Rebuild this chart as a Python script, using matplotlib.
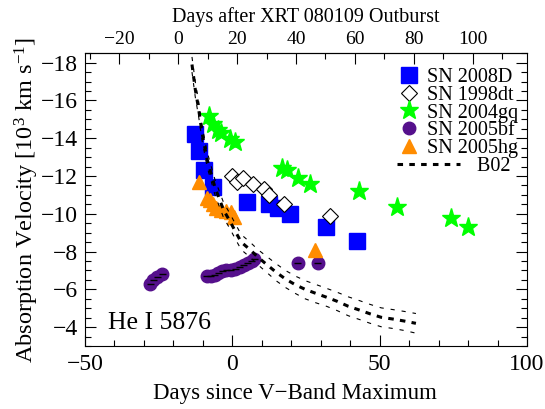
import numpy as np
import matplotlib
matplotlib.use("Agg")
import matplotlib.pyplot as plt
from matplotlib.ticker import MultipleLocator
from matplotlib.lines import Line2D
from matplotlib.legend_handler import HandlerLine2D

plt.rcParams["font.family"] = ["Liberation Serif", "DejaVu Serif"]
plt.rcParams["mathtext.fontset"] = "custom"
plt.rcParams["mathtext.rm"] = "Liberation Serif"
plt.rcParams["mathtext.it"] = "Liberation Serif:italic"
plt.rcParams["lines.scale_dashes"] = False

# days since V-band max, absorption velocity (10^3 km/s)
sn08d_t = [-12.6, -11.4, -9.6, -6.7, 5.0, 12.3, 15.5, 19.5, 31.8, 42.2]
sn08d_v = [-14.2, -13.3, -12.3, -11.4, -10.6, -10.5, -10.3, -10.0, -9.3, -8.55]

sn98dt_t = [0.0, 1.5, 3.7, 7.0, 10.9, 12.3, 17.5, 33.3]
sn98dt_v = [-12.0, -11.7, -11.9, -11.6, -11.3, -11.0, -10.5, -9.9]

sn04gq_t = [-8.0, -6.5, -5.0, -3.8, -0.8, 0.8, 17.0, 18.5, 22.2, 26.2, 43.0, 55.9, 74.2, 80.1]
sn04gq_v = [-15.2, -14.75, -14.45, -14.3, -13.95, -13.8, -12.4, -12.3, -11.9, -11.6,
            -11.2, -10.35, -9.75, -9.3]

sn05bf_t = [-27.9, -26.8, -25.5, -23.8, -8.6, -7.3, -6.0, -4.8, -3.5, -2.0, -0.5,
            1.0, 2.5, 3.8, 5.2, 6.5, 7.5, 22.2, 29.0]
sn05bf_v = [-6.28, -6.5, -6.65, -6.8, -6.68, -6.7, -6.78, -6.85, -6.95, -7.0, -7.03,
            -7.1, -7.2, -7.27, -7.38, -7.5, -7.6, -7.37, -7.39]

sn05hg_t = [-11.4, -8.6, -7.5, -6.5, -5.6, -4.0, -2.0, -0.3, 0.7, 28.1]
sn05hg_v = [-11.7, -10.85, -10.75, -10.5, -10.3, -10.2, -10.15, -10.1, -9.85, -8.1]

# B02 curve and its band
b02_t = [-13.7, -12.6, -11.4, -10.3, -8.6, -5.9, -3.0, -0.8, 0.9, 3.0, 6.0, 8.7,
         12.0, 14.9, 18.0, 21.4, 24.7, 28.1, 32.0, 35.5, 39.4, 43.2, 46.8, 50.5,
         54.4, 58.4, 62.3]
b02_v = [-17.9, -16.6, -15.5, -14.3, -12.9, -11.4, -10.2, -9.6, -9.1, -8.5, -8.1,
         -7.7, -7.27, -6.9, -6.55, -6.24, -6.0, -5.8, -5.58, -5.37, -5.1, -4.9,
         -4.7, -4.52, -4.43, -4.32, -4.2]
b02_hi = [-18.3, -17.0, -15.9, -14.7, -13.3, -11.8, -10.6, -10.0, -9.5, -8.9, -8.5,
          -8.1, -7.7, -7.35, -7.0, -6.7, -6.46, -6.27, -6.05, -5.85, -5.6, -5.4,
          -5.2, -5.02, -4.93, -4.83, -4.72]
b02_lo = [-17.5, -16.2, -15.1, -13.9, -12.5, -11.0, -9.8, -9.2, -8.7, -8.1, -7.7,
          -7.3, -6.85, -6.45, -6.1, -5.78, -5.5, -5.3, -5.1, -4.88, -4.6, -4.4,
          -4.2, -4.02, -3.93, -3.82, -3.68]

xrt_offset = 18.4

BLUE, GREEN, PURPLE, ORANGE = "#0000ff", "#00ff00", "#55108c", "#ff8c00"
thick_dash = (4, 4.5)


class LongLine(HandlerLine2D):
    # dashed B02 sample is drawn wider than the marker samples
    def create_artists(self, legend, orig_handle, xdescent, ydescent, width,
                       height, fontsize, trans):
        return super().create_artists(legend, orig_handle, xdescent, ydescent,
                                      width * 2.6, height, fontsize, trans)


fig = plt.figure(figsize=(5.45, 4.09), dpi=100)
ax = fig.add_axes([0.156, 0.154, 0.811, 0.716])

ax.plot(sn08d_t, sn08d_v, "s", color=BLUE, ms=11, zorder=3)
ax.plot(sn98dt_t, sn98dt_v, "D", mfc="white", mec="black", mew=0.8, ms=8.5, zorder=3)
ax.plot(sn04gq_t, sn04gq_v, "*", color=GREEN, ms=14, zorder=3)
ax.plot(sn05bf_t, sn05bf_v, "o", color=PURPLE, ms=9, zorder=3)
ax.errorbar(sn05bf_t, sn05bf_v, xerr=1.2, fmt="none", ecolor="black",
            elinewidth=1, capsize=0, zorder=4)
ax.plot(sn05hg_t, sn05hg_v, "^", color=ORANGE, ms=9.5, zorder=3)

ax.plot(b02_t, b02_v, color="black", lw=2.2, dashes=thick_dash, zorder=5)
ax.plot(b02_t, b02_hi, color="black", lw=0.8, dashes=(3, 5), zorder=5)
ax.plot(b02_t, b02_lo, color="black", lw=0.8, dashes=(3, 5), zorder=5)

ax.set_xlim(-50, 100)
ax.set_ylim(-3, -18.5)
ax.xaxis.set_major_locator(MultipleLocator(50))
ax.xaxis.set_minor_locator(MultipleLocator(10))
ax.yaxis.set_major_locator(MultipleLocator(2))
ax.yaxis.set_minor_locator(MultipleLocator(0.5))
ax.tick_params(which="both", direction="in", right=True, labelsize=17, width=0.8)
ax.tick_params(which="major", length=8)
ax.tick_params(which="minor", length=4)
ax.tick_params(axis="x", pad=6)
ax.tick_params(axis="y", pad=5)

ax.set_xlabel("Days since V\u2212Band Maximum", fontsize=16.5, labelpad=4)
ax.xaxis.set_label_coords(0.475, -0.125)
ax.set_ylabel("Absorption Velocity [10$^3$ km s$^{-1}$]", fontsize=17.5, labelpad=0)

top = ax.secondary_xaxis("top", functions=(lambda x: x + xrt_offset,
                                          lambda x: x - xrt_offset))
top.xaxis.set_major_locator(MultipleLocator(20))
top.xaxis.set_minor_locator(MultipleLocator(10))
top.tick_params(which="both", direction="in", labelsize=14, width=0.8, pad=4)
top.tick_params(which="major", length=8)
top.tick_params(which="minor", length=4)
top.set_xlabel("Days after XRT 080109 Outburst", fontsize=14.5, labelpad=6)

ax.text(0.052, 0.078, "He I 5876", transform=ax.transAxes, fontsize=18.5,
        va="center", ha="left")

b02_handle = Line2D([], [], color="black", lw=2.2, dashes=thick_dash)
handles = [
    Line2D([], [], ls="", marker="s", color=BLUE, ms=11),
    Line2D([], [], ls="", marker="D", mfc="white", mec="black", mew=0.8, ms=8.5),
    Line2D([], [], ls="", marker="*", color=GREEN, ms=14),
    Line2D([], [], ls="", marker="o", color=PURPLE, ms=9),
    Line2D([], [], ls="", marker="^", color=ORANGE, ms=9.5),
    b02_handle,
]
labels = ["SN 2008D", "SN 1998dt", "SN 2004gq", "SN 2005bf", "SN 2005hg",
          "          B02"]
ax.legend(handles, labels, loc="upper left", bbox_to_anchor=(0.688, 0.978),
          frameon=False, fontsize=14.5, labelspacing=-0.06, handlelength=1.2,
          handletextpad=0.3, borderaxespad=0,
          handler_map={b02_handle: LongLine()})

fig.savefig("out.png", dpi=100)
